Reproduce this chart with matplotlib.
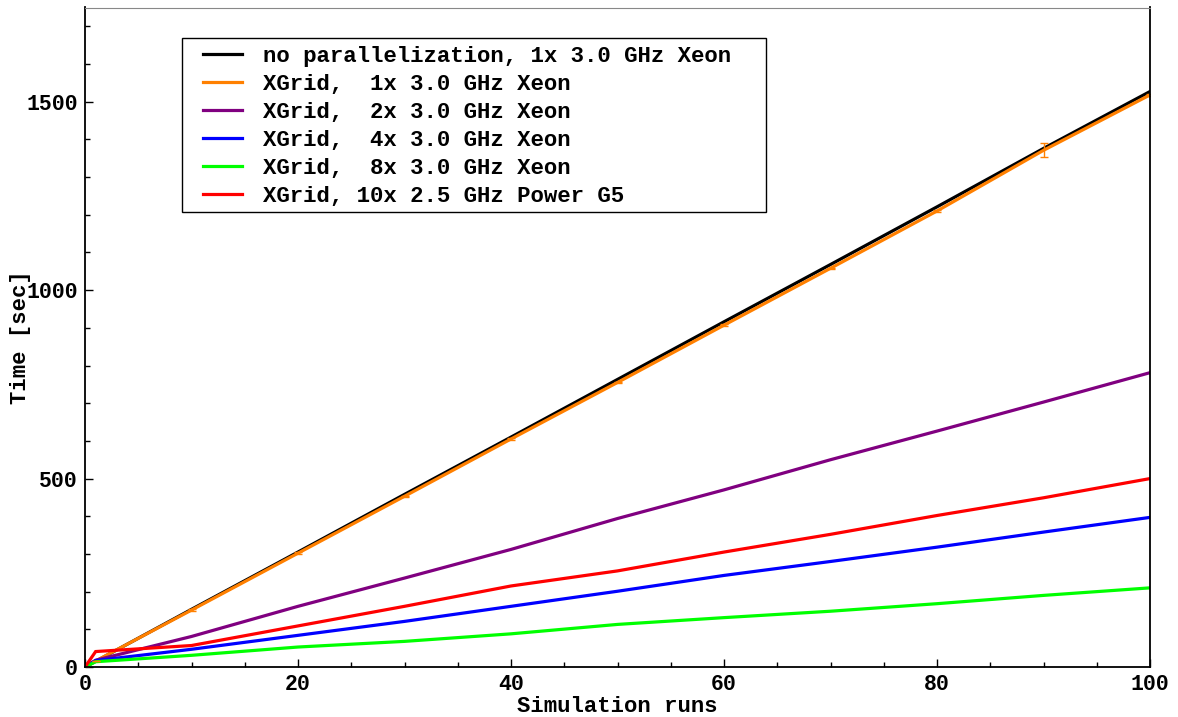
import matplotlib
matplotlib.use("Agg")
import matplotlib.pyplot as plt
from matplotlib.ticker import MultipleLocator
from matplotlib.patches import Rectangle

runs = [0, 1, 10, 20, 30, 40, 50, 60, 70, 80, 90, 100]
no_par = [0, 15, 153, 305, 458, 610, 763, 916, 1068, 1221, 1376, 1527]
xg1 = [0, 16, 151, 302, 453, 605, 755, 907, 1058, 1210, 1371, 1518]
xg2 = [0, 18, 81, 161, 236, 312, 394, 470, 550, 626, 703, 781]
xg4 = [0, 17, 47, 84, 121, 161, 201, 243, 280, 318, 358, 397]
xg8 = [0, 14, 31, 53, 68, 88, 113, 131, 148, 168, 190, 210]
xg10 = [0, 41, 57, 109, 161, 215, 255, 305, 352, 402, 449, 500]
xg1_err = [0, 1, 2, 2, 2, 2, 2, 2, 2, 2, 19, 2]

labels = [
    "no parallelization, 1x 3.0 GHz Xeon",
    "XGrid,  1x 3.0 GHz Xeon",
    "XGrid,  2x 3.0 GHz Xeon",
    "XGrid,  4x 3.0 GHz Xeon",
    "XGrid,  8x 3.0 GHz Xeon",
    "XGrid, 10x 2.5 GHz Power G5",
]
colors = ["#000000", "#FF8000", "#800080", "#0000FF", "#00FF00", "#FF0000"]

plt.rcParams['font.family'] = ['Liberation Mono', 'DejaVu Sans Mono']
plt.rcParams['font.weight'] = 'bold'
fs = 15.5
lfs = 16.1

fig = plt.figure(figsize=(11.78, 7.17), dpi=100)
ax = fig.add_axes([85/1178, 50/717, 1065/1178, 659.5/717])

series = [no_par, xg1, xg2, xg4, xg8, xg10]
for ys, c, lab in zip(series, colors, labels):
    ax.plot(runs, ys, color=c, lw=2.3, label=lab, solid_joinstyle='miter')
ax.errorbar(runs, xg1, yerr=xg1_err, fmt='none', ecolor=colors[1], elinewidth=1.0,
            capsize=3, capthick=1.0)

ax.set_xlim(0, 100)
ax.set_ylim(0, 1750)
ax.xaxis.set_major_locator(MultipleLocator(20))
ax.xaxis.set_minor_locator(MultipleLocator(5))
ax.yaxis.set_major_locator(MultipleLocator(500))
ax.yaxis.set_minor_locator(MultipleLocator(100))
ax.tick_params(which='both', direction='in', top=False, right=False, labelsize=fs, width=1)
ax.tick_params(which='major', length=6, pad=5)
ax.tick_params(which='minor', length=3.5)
for lab in ax.get_xticklabels() + ax.get_yticklabels():
    lab.set_fontweight('bold')
ax.spines['top'].set_color('#888888')
for s in ['left', 'bottom', 'right']:
    ax.spines[s].set_linewidth(1.3)

ax.set_xlabel("Simulation runs", fontsize=16, fontweight='bold', labelpad=1)
ax.set_ylabel("Time [sec]", fontsize=16, fontweight='bold', labelpad=-3.5)

# legend box (frame drawn separately to match the wider right padding)
ax.add_patch(Rectangle((0.0911, 0.690), 0.6394 - 0.0911, 0.9538 - 0.690,
                       transform=ax.transAxes, facecolor='white', edgecolor='black',
                       lw=1.0, zorder=4))
leg = ax.legend(loc='center left', bbox_to_anchor=(0.1108, 0.8195), fontsize=lfs,
                frameon=False, handlelength=1.75, handletextpad=0.95,
                labelspacing=0.31, borderpad=0, borderaxespad=0)
leg.set_zorder(5)
for t in leg.get_texts():
    t.set_fontweight('bold')

fig.savefig("out.png", dpi=100)
